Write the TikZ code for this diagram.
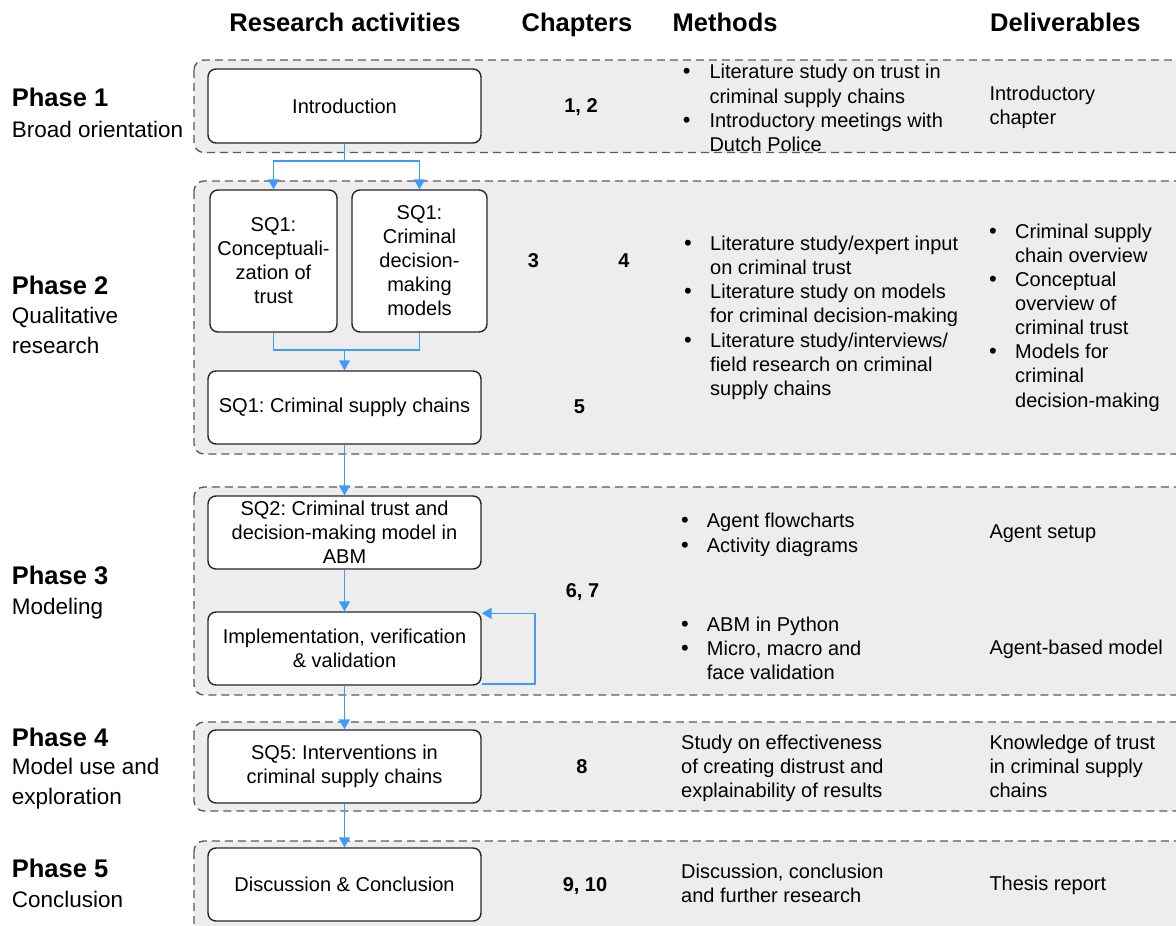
\documentclass[tikz,border=0pt]{standalone}
\usepackage{fontspec}
\setmainfont{Liberation Sans}
\usetikzlibrary{arrows.meta}

\definecolor{panelfill}{HTML}{EDEDED}
\definecolor{paneledge}{HTML}{5A5A5A}
\definecolor{flowblue}{HTML}{3D9BFA}
\definecolor{boxedge}{HTML}{262626}

% rows of text, one node per line, first baseline at #3
\newcommand\textrows[6]{%
  \foreach \row [count=\k] in {#6}
    \node[#4, anchor=base west] (#1\k) at (#2, {#3+(\k-1)*#5}) {\row};
}

\frenchspacing
\begin{document}
\begin{tikzpicture}[x=1pt,y=-1pt,
  panel/.style={fill=panelfill, draw=paneledge, line width=1.4pt,
    dash pattern=on 8pt off 5pt, rounded corners=10pt},
  stage/.style={draw=boxedge, fill=white, line width=1.4pt, rounded corners=8pt,
    align=center, font=\fontsize{20}{24}\selectfont, inner sep=0pt},
  link/.style={draw=flowblue, line width=1.6pt},
  flow/.style={link, -{Triangle[length=10pt,width=11pt]}},
  head/.style={font=\fontsize{25.5}{30}\selectfont\bfseries, inner sep=0pt},
  phase/.style={font=\fontsize{25.5}{30}\selectfont\bfseries, inner sep=0pt},
  phasesub/.style={font=\fontsize{22.5}{30}\selectfont, inner sep=0pt},
  body/.style={font=\fontsize{20}{24}\selectfont, inner sep=0pt},
  chap/.style={font=\fontsize{20}{24}\selectfont\bfseries, inner sep=0pt, anchor=base},
  dot/.style={font=\fontsize{22}{24}\selectfont, inner sep=0pt, anchor=base},
]
\useasboundingbox (0,0) rectangle (1176,926);

% phase panels
\begin{scope}
  \clip (0,0) rectangle (1176,926);
  \draw[panel] (194,60)  rectangle (1200,152.5);
  \draw[panel] (194,181) rectangle (1200,454);
  \draw[panel] (194,487) rectangle (1200,695);
  \draw[panel] (194,722) rectangle (1200,811);
  \draw[panel] (194,841) rectangle (1200,945);
\end{scope}

% column headings
\node[head, anchor=base] (hres) at (345,31.5) {Research activities};
\node[head, anchor=base] (hchap) at (577,31.5) {Chapters};
\node[head, anchor=base west] (hmeth) at (672.5,31.5) {Methods};
\node[head, anchor=base west] (hdel) at (990,31.5) {Deliverables};

% phase labels
\node[phase, anchor=base west] (ph1) at (11.7,106) {Phase 1};
\textrows{ph1s}{11.7}{137}{phasesub}{30}{Broad orientation}
\node[phase, anchor=base west] (ph2) at (11.7,294.5) {Phase 2};
\textrows{ph2s}{11.7}{323.5}{phasesub}{30}{Qualitative,research}
\node[phase, anchor=base west] (ph3) at (11.7,584) {Phase 3};
\textrows{ph3s}{11.7}{614}{phasesub}{30}{Modeling}
\node[phase, anchor=base west] (ph4) at (11.7,746) {Phase 4};
\textrows{ph4s}{11.7}{774.5}{phasesub}{30}{Model use and,exploration}
\node[phase, anchor=base west] (ph5) at (11.7,877) {Phase 5};
\textrows{ph5s}{11.7}{907}{phasesub}{30}{Conclusion}

% research activities
\node[stage, minimum width=273pt, minimum height=74pt] (intro) at (344.5,106) {Introduction};
\node[stage, minimum width=127pt, minimum height=142pt] (conc) at (273.5,261)
  {SQ1:\\Conceptuali-\\zation of\\trust};
\node[stage, minimum width=135pt, minimum height=142pt] (crim) at (419.5,261)
  {SQ1:\\Criminal\\decision-\\making\\models};
\node[stage, minimum width=273pt, minimum height=73pt] (supply) at (344.5,407.5)
  {SQ1: Criminal supply chains};
\node[stage, minimum width=273pt, minimum height=73pt] (sq2) at (344.5,532.5)
  {SQ2: Criminal trust and\\decision-making model in\\ABM};
\node[stage, minimum width=273pt, minimum height=73pt] (impl) at (344.5,648.5)
  {Implementation, verification\\\& validation};
\node[stage, minimum width=273pt, minimum height=73pt] (sq5) at (344.5,766.5)
  {SQ5: Interventions in\\criminal supply chains};
\node[stage, minimum width=273pt, minimum height=73pt] (disc) at (344.5,884.5)
  {Discussion \& Conclusion};

% connectors
\coordinate (split) at (344.5,160.7);
\coordinate (merge) at (344.5,350);
\draw[link] (intro.south) -- (split);
\draw[flow] (split) -| (conc.north);
\draw[flow] (split) -| (crim.north);
\draw[link] (conc.south) |- (merge) -| (crim.south);
\draw[flow] (merge) -- (supply.north);
\draw[flow] (supply.south) -- (sq2.north);
\draw[flow] (sq2.south) -- (impl.north);
\draw[flow] ([yshift=2pt]impl.south east) -- ++(53,0) |- ([yshift=-2pt]impl.north east);
\draw[flow] (impl.south) -- (sq5.north);
\draw[flow] (sq5.south) -- (disc.north);

% chapters
\node[chap] (c12) at (581,112) {1, 2};
\node[chap] (c3) at (533.5,267) {3};
\node[chap] (c4) at (624,267) {4};
\node[chap] (c5) at (579.5,413) {5};
\node[chap] (c67) at (582.5,597) {6, 7};
\node[chap] (c8) at (582,773) {8};
\node[chap] (c910) at (585,891) {9, 10};

% methods
\textrows{m1-}{709.3}{78.8}{body}{24.2}{Literature study on trust in,criminal supply chains,Introductory meetings with,Dutch Police}
\node[dot] (m1b1) at (686.7,78.8) {\textbullet};
\node[dot] (m1b2) at (686.7,127.2) {\textbullet};

\textrows{m2-}{710}{250}{body}{24.3}{Literature study/expert input,on criminal trust,Literature study on models,for criminal decision-making,Literature study/interviews/,field research on criminal,supply chains}
\node[dot] (m2b1) at (688,250) {\textbullet};
\node[dot] (m2b2) at (688,298.6) {\textbullet};
\node[dot] (m2b3) at (688,347.2) {\textbullet};

\textrows{m3a-}{706.7}{527.5}{body}{24.5}{Agent flowcharts,Activity diagrams}
\node[dot] (m3b1) at (685,527.5) {\textbullet};
\node[dot] (m3b2) at (685,552) {\textbullet};
\textrows{m3c-}{706.7}{631}{body}{24.2}{ABM in Python,{Micro, macro and},face validation}
\node[dot] (m3b3) at (685,631) {\textbullet};
\node[dot] (m3b4) at (685,655.2) {\textbullet};

\textrows{m4-}{681}{749}{body}{24.2}{Study on effectiveness,of creating distrust and,explainability of results}
\textrows{m5-}{681}{878}{body}{24.2}{{Discussion, conclusion},and further research}

% deliverables
\textrows{d1-}{989.3}{100.7}{body}{24}{Introductory,chapter}
\textrows{d2-}{1015}{238.3}{body}{24.1}{Criminal supply,chain overview,Conceptual,overview of,criminal trust,Models for,criminal,decision-making}
\node[dot] (d2b1) at (993,238.3) {\textbullet};
\node[dot] (d2b2) at (993,286.5) {\textbullet};
\node[dot] (d2b3) at (993,358.8) {\textbullet};
\node[body, anchor=base west] (d3a) at (989.3,538.3) {Agent setup};
\node[body, anchor=base west] (d3b) at (989.3,654) {Agent-based model};
\textrows{d4-}{989.3}{749}{body}{24.2}{Knowledge of trust,in criminal supply,chains}
\node[body, anchor=base west] (d5) at (989.3,890) {Thesis report};

\end{tikzpicture}
\end{document}
